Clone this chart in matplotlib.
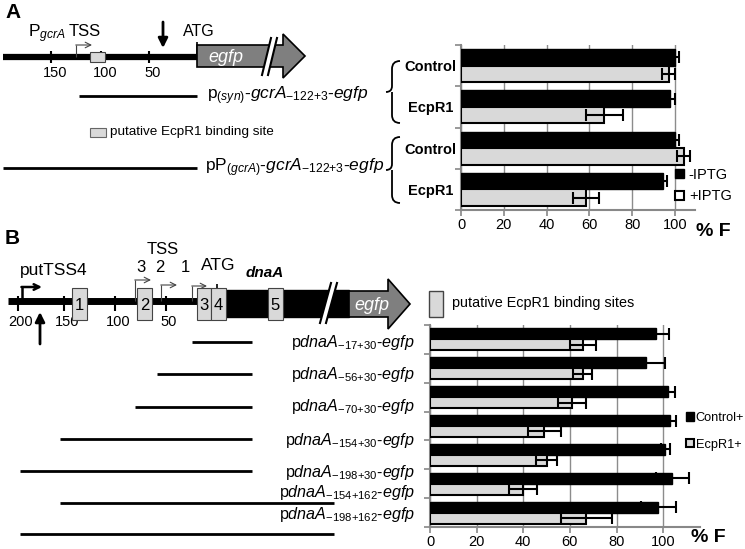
import numpy as np
import matplotlib.pyplot as plt
from matplotlib.patches import Polygon, Rectangle, PathPatch
from matplotlib.path import Path

plt.rcParams['font.family'] = ['Liberation Sans', 'DejaVu Sans']
plt.rcParams['mathtext.fontset'] = 'custom'
plt.rcParams['mathtext.rm'] = 'Liberation Sans'
plt.rcParams['mathtext.it'] = 'Liberation Sans:italic'
plt.rcParams['mathtext.bf'] = 'Liberation Sans:bold'

# ---- panel A data ----
a_groups = ['Control', 'EcpR1', 'Control', 'EcpR1']
a_minus_iptg = [100, 97.5, 100, 94.5]
a_minus_err = [2, 2.5, 2, 1.5]
a_plus_iptg = [97, 67, 104, 58.5]
a_plus_err = [3, 8.5, 3, 6]
a_constructs = [r'p$_{\mathit{(syn)}}$-$\mathit{gcrA}_{\mathrm{{-}122{+}3}}$-$\mathit{egfp}$',
                r'pP$_{\mathit{(gcrA)}}$-$\mathit{gcrA}_{\mathrm{{-}122{+}3}}$-$\mathit{egfp}$']
a_ticks_bp = [150, 100, 50]

# ---- panel B data ----
b_constructs = [r'p$\mathit{dnaA}_{\mathit{{-}17{+}30}}$-$\mathit{egfp}$',
                r'p$\mathit{dnaA}_{\mathit{{-}56{+}30}}$-$\mathit{egfp}$',
                r'p$\mathit{dnaA}_{\mathit{{-}70{+}30}}$-$\mathit{egfp}$',
                r'p$\mathit{dnaA}_{\mathit{{-}154{+}30}}$-$\mathit{egfp}$',
                r'p$\mathit{dnaA}_{\mathit{{-}198{+}30}}$-$\mathit{egfp}$',
                r'p$\mathit{dnaA}_{\mathit{{-}154{+}162}}$-$\mathit{egfp}$',
                r'p$\mathit{dnaA}_{\mathit{{-}198{+}162}}$-$\mathit{egfp}$']
b_start = [-17, -56, -70, -154, -198, -154, -198]
b_end = [30, 30, 30, 30, 30, 162, 162]
b_control = [97, 92.5, 102, 103, 101, 104, 98]
b_control_err = [5.5, 8.5, 3, 2.5, 2, 7, 7.5]
b_ecpr1 = [65.5, 65.5, 61, 49, 50, 40, 67]
b_ecpr1_err = [5.5, 4, 6, 7, 4.5, 6, 11]
b_ticks_bp = [200, 150, 100, 50]

W, H = 745, 549
fig = plt.figure(figsize=(W / 100, H / 100), dpi=100)

# overlay in pixel coordinates for the schematic drawings
ov = fig.add_axes([0, 0, 1, 1])
ov.set_xlim(0, W)
ov.set_ylim(H, 0)
ov.axis('off')

LIGHT = '#d9d9d9'
DARK = '#7f7f7f'


def seg(x0, x1, y0, y1, lw=2, color='k'):
    ov.plot([x0, x1], [y0, y1], color=color, lw=lw, solid_capstyle='butt')


def bent_arrow(x, ybase, ytop, xend, lw=0.8, color='#444444'):
    seg(x, x, ybase, ytop, lw=lw, color=color)
    ov.annotate('', xy=(xend, ytop), xytext=(x - lw * 0.3, ytop),
                arrowprops=dict(arrowstyle='->', lw=lw, color=color,
                                shrinkA=0, shrinkB=0))


def box(x0, x1, y0, y1, label=None, fs=12):
    ov.add_patch(Rectangle((x0, y0), x1 - x0, y1 - y0, facecolor=LIGHT,
                           edgecolor='#444444', lw=0.8, zorder=3))
    if label:
        ov.text((x0 + x1) / 2, (y0 + y1) / 2 + 1, label, ha='center',
                va='center', fontsize=fs, zorder=4)


def gfp_arrow(x0, xh, xt, yc, hb, hh, text, xtext):
    pts = [(x0, yc - hb), (xh, yc - hb), (xh, yc - hh), (xt, yc),
           (xh, yc + hh), (xh, yc + hb), (x0, yc + hb)]
    ov.add_patch(Polygon(pts, closed=True, facecolor=DARK, edgecolor='k',
                         lw=1.2, zorder=3))
    ov.text(xtext, yc + 1, text, color='white', style='italic',
            ha='center', va='center', fontsize=13, zorder=5)


def break_mark(xb, ytop, ybot, slant=10, gap=5):
    pts = [(xb, ybot), (xb + slant, ytop), (xb + slant + gap, ytop),
           (xb + gap, ybot)]
    ov.add_patch(Polygon(pts, closed=True, facecolor='white',
                         edgecolor='none', zorder=4))
    for dx in (0, gap):
        ov.plot([xb + dx, xb + slant + dx], [ybot, ytop], color='k', lw=1.5,
                zorder=5)


def brace(x, ytop, ybot, w=10):
    ym = (ytop + ybot) / 2
    verts = [(x + w, ytop), (x + 2, ytop), (x + 2, ytop + 8),
             (x + 2, ym - 6), (x + 2, ym), (x - 4, ym),
             (x + 2, ym), (x + 2, ym + 6),
             (x + 2, ybot - 8), (x + 2, ybot), (x + w, ybot)]
    codes = [Path.MOVETO, Path.CURVE3, Path.CURVE3, Path.LINETO, Path.CURVE3,
             Path.CURVE3, Path.MOVETO, Path.CURVE3, Path.LINETO, Path.CURVE3,
             Path.CURVE3]
    ov.add_patch(PathPatch(Path(verts, codes), facecolor='none',
                           edgecolor='k', lw=1.3))


# ================= Panel A schematic =================
ov.text(5, 12, 'A', fontsize=15, fontweight='bold', va='center')
a_px = lambda bp: np.interp(-bp, [-150, -100, -50, 0], [51, 101, 149, 197])
seg(3, 197, 57, 57, lw=4.5)
for t in a_ticks_bp:
    seg(a_px(t), a_px(t), 51, 63, lw=1.5)
    ov.text(a_px(t) + 4, 73, str(t), ha='center', va='center', fontsize=10.5)
box(90, 105, 52, 62)
bent_arrow(76, 57, 45, 92)
ov.text(28, 34, r'P$_{\mathit{gcrA}}$', fontsize=12.5, va='center')
ov.text(85, 32, 'TSS', fontsize=12, ha='center', va='center')
ov.annotate('', xy=(163, 48), xytext=(163, 22),
            arrowprops=dict(arrowstyle='-|>', lw=2, color='k',
                            mutation_scale=14, shrinkA=0, shrinkB=0))
ov.text(199, 31, 'ATG', fontsize=11.5, ha='center', va='center')
seg(197, 197, 42, 57, lw=1.2)
gfp_arrow(197, 283, 305, 56, 11, 22, 'egfp', 226)
break_mark(262, 38, 75, slant=9, gap=6)

seg(a_px(122), a_px(-3), 96, 96, lw=2)
ov.text(207, 96, a_constructs[0], fontsize=12.5, va='center')
ov.add_patch(Rectangle((90, 128), 16, 9, facecolor=LIGHT, edgecolor='#666666',
                       lw=0.8))
ov.text(110, 132, 'putative EcpR1 binding site', fontsize=9.7, va='center')
seg(3, a_px(-3), 168, 168, lw=2)
ov.text(205, 168, a_constructs[1], fontsize=12.5, va='center')
brace(390, 61, 123)
brace(390, 137, 203)

# ================= Panel B schematic =================
ov.text(5, 238, 'B', fontsize=15, fontweight='bold', va='center')
b_px = lambda bp: np.interp(bp, [-200, -150, -100, -70, -50, -17, 0, 30, 162],
                            [18, 64, 115, 135, 166, 192, 217, 252, 334])
seg(8, 226, 301, 301, lw=5)
ov.add_patch(Rectangle((226, 290), 123, 27, facecolor='k', edgecolor='k',
                       zorder=2))
break_mark(320, 283, 323, slant=11, gap=6)
gfp_arrow(349, 388, 410, 304, 13, 25, 'egfp', 372)
for t in b_ticks_bp:
    seg(b_px(-t), b_px(-t), 296, 311, lw=1.5)
    ov.text(b_px(-t) + 3, 322, str(t), ha='center', va='center', fontsize=10.5)
ov.annotate('', xy=(40, 312), xytext=(40, 344),
            arrowprops=dict(arrowstyle='-|>', lw=2, color='k',
                            mutation_scale=14, shrinkA=0, shrinkB=0))
bent_arrow(22, 301, 287, 42, lw=1.8, color='k')
ov.text(20, 270, 'putTSS4', fontsize=12.5, va='center')
bent_arrow(135, 301, 280, 151)
bent_arrow(161, 301, 285, 177)
bent_arrow(192, 301, 286, 207)
box(72, 87, 288, 320, '1')
box(137, 152, 288, 320, '2')
box(197, 211, 288, 320, '3')
box(211, 226, 288, 320, '4')
box(268, 283, 288, 320, '5')
seg(217, 217, 284, 290, lw=1.2)
ov.text(163, 249, 'TSS', fontsize=12, ha='center', va='center')
for lab, x in zip(['3', '2', '1'], [141, 160, 185]):
    ov.text(x, 267, lab, fontsize=12, ha='center', va='center')
ov.text(218, 266, 'ATG', fontsize=12.5, ha='center', va='center')
ov.text(265, 273, 'dnaA', fontsize=11, fontweight='bold', style='italic',
        ha='center', va='center')
ov.add_patch(Rectangle((429, 291), 14, 26, facecolor=LIGHT, edgecolor='#444444',
                       lw=1))
ov.text(452, 303, 'putative EcpR1 binding sites', fontsize=10.4, va='center')

line_y = [342, 374, 407, 439, 471, 503, 534]
lab_y = [343, 375, 407, 440, 472, 492, 515]
for s, e, ly, ty, name in zip(b_start, b_end, line_y, lab_y, b_constructs):
    seg(b_px(s), b_px(e), ly, ly, lw=2)
    ov.text(415, ty, name, fontsize=11.6, ha='right', va='center')


# ================= bar charts =================
def bar_chart(ax, dark, dark_err, light, light_err, width, xmax):
    y = np.arange(len(dark))
    ax.barh(y - width / 2, dark, height=width, color='k', edgecolor='k',
            lw=1, zorder=3)
    ax.barh(y + width / 2, light, height=width, color=LIGHT, edgecolor='k',
            lw=1.5, zorder=3)
    ax.errorbar(dark, y - width / 2, xerr=dark_err, fmt='none', ecolor='k',
                elinewidth=1.5, capsize=4, capthick=1.5, zorder=4)
    ax.errorbar(light, y + width / 2, xerr=light_err, fmt='none', ecolor='k',
                elinewidth=1.5, capsize=4, capthick=1.5, zorder=4)
    ax.set_xlim(0, xmax)
    ax.set_ylim(len(dark) - 0.5, -0.5)
    ax.set_xticks(np.arange(0, 101, 20))
    ax.set_yticks(np.arange(len(dark) + 1) - 0.5, minor=True)
    ax.tick_params(axis='y', which='minor', length=4, color='#888888', width=1.2)
    ax.tick_params(axis='x', length=4, color='#888888', width=1.2,
                   labelsize=10.5, pad=1.5)
    ax.grid(axis='x', color='#8c8c8c', lw=1, zorder=0)
    for sp in ('top', 'right'):
        ax.spines[sp].set_visible(False)
    for sp in ('left', 'bottom'):
        ax.spines[sp].set_color('#888888')
        ax.spines[sp].set_linewidth(1.5)
    ax.patch.set_alpha(0)


axA = fig.add_axes([461 / W, 1 - 210 / H, 234 / W, 165 / H])
bar_chart(axA, a_minus_iptg, a_minus_err, a_plus_iptg, a_plus_err, 0.4, 109.3)
axA.set_yticks(np.arange(len(a_groups)))
axA.set_yticklabels(a_groups, fontweight='bold', fontsize=10.5, ha='center')
axA.tick_params(axis='y', which='major', length=0, pad=22)
hA = [Rectangle((0, 0), 1, 1, facecolor='k', edgecolor='k'),
      Rectangle((0, 0), 1, 1, facecolor='white', edgecolor='k', lw=1.5)]
fig.legend(hA, ['-IPTG', '+IPTG'], loc='upper left',
           bbox_to_anchor=(675 / W, 1 - 168 / H), frameon=False, fontsize=10.5,
           handlelength=0.6, handleheight=0.6, handletextpad=0.35,
           labelspacing=0.5, borderaxespad=0, borderpad=0)
fig.text(713 / W, 1 - 232 / H, '% F', fontsize=14, fontweight='bold',
         ha='center', va='center')

axB = fig.add_axes([430 / W, 1 - 527 / H, 270 / W, 202 / H])
bar_chart(axB, b_control, b_control_err, b_ecpr1, b_ecpr1_err, 0.38, 115.8)
axB.set_yticks([])
hB = [Rectangle((0, 0), 1, 1, facecolor='k', edgecolor='k'),
      Rectangle((0, 0), 1, 1, facecolor=LIGHT, edgecolor='k', lw=1.5)]
fig.legend(hB, ['Control+', 'EcpR1+'], loc='upper left',
           bbox_to_anchor=(686 / W, 1 - 412 / H), frameon=False, fontsize=9.2,
           handlelength=0.65, handleheight=0.65, handletextpad=0.1,
           labelspacing=1.15, borderaxespad=0, borderpad=0)
fig.text(708 / W, 1 - 538 / H, '% F', fontsize=14, fontweight='bold',
         ha='center', va='center')

fig.savefig('out.png', dpi=100)
